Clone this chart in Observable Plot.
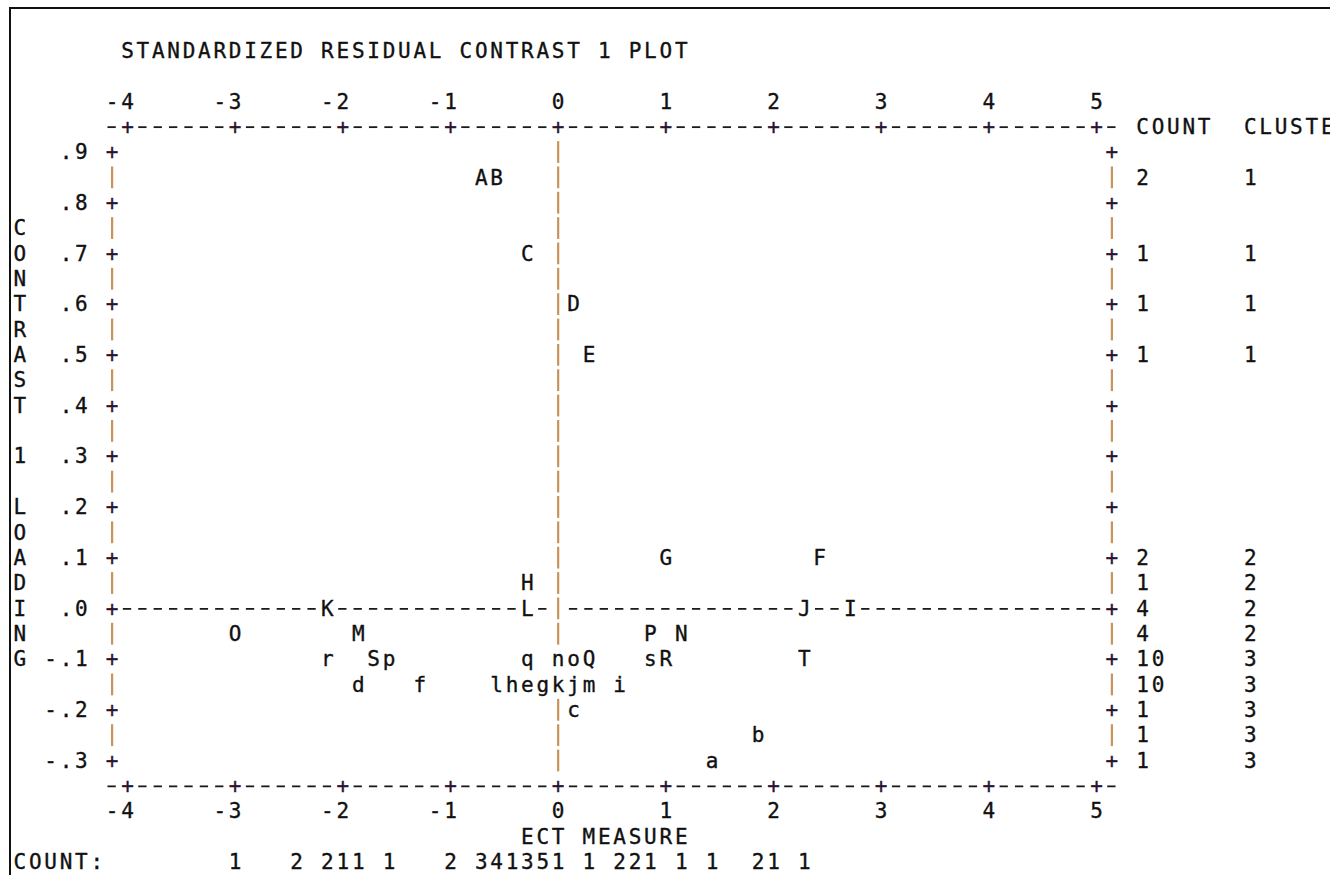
<!DOCTYPE html>
<html><head><meta charset="utf-8">
<script src="https://cdn.jsdelivr.net/npm/d3@7"></script>
<script src="https://cdn.jsdelivr.net/npm/@observablehq/plot@0.6"></script>
<style>
body{margin:0;background:#fff;}
#wrap{position:relative;width:1330px;height:875px;overflow:hidden;background:#fff;}
#chart{position:absolute;left:0;top:0;}
#border{position:absolute;left:9px;top:7px;width:1400px;height:900px;border-left:2px solid #111;border-top:2px solid #111;pointer-events:none;}
</style></head><body>
<div id="wrap"><div id="chart"></div><div id="border"></div></div>
<script>
// ---- data ----
const itemLabels   = ["A","B","C","D","E","F","G","H","I","J","K","L","M","N","O","P","Q","R","S","T",
                      "a","b","c","d","e","f","g","h","i","j","k","l","m","n","o","p","q","r","s"];
const itemMeasures = [-0.714,-0.571,-0.286,0.143,0.286,2.429,1.000,-0.286,2.714,2.286,-2.143,-0.286,-1.857,1.143,-3.000,0.857,0.286,1.000,-1.714,2.286,
                      1.429,1.857,0.143,-1.857,-0.286,-1.286,-0.143,-0.429,0.571,0.143,0.000,-0.571,0.286,0.000,0.143,-1.571,-0.286,-2.143,0.857];
const itemLoadings = [0.85,0.85,0.70,0.60,0.50,0.10,0.10,0.05,0.00,0.00,0.00,0.00,-0.05,-0.05,-0.05,-0.05,-0.10,-0.10,-0.10,-0.10,
                      -0.30,-0.25,-0.20,-0.15,-0.15,-0.15,-0.15,-0.15,-0.15,-0.15,-0.15,-0.15,-0.15,-0.10,-0.10,-0.10,-0.10,-0.10,-0.10];

const xTicks = [-4,-3,-2,-1,0,1,2,3,4,5];
const yTicks = [0.9,0.8,0.7,0.6,0.5,0.4,0.3,0.2,0.1,0.0,-0.1,-0.2,-0.3];
const yTickLabels = [".9",".8",".7",".6",".5",".4",".3",".2",".1",".0","-.1","-.2","-.3"];

const rowLoadings = [0.85,0.70,0.60,0.50,0.10,0.05,0.00,-0.05,-0.10,-0.15,-0.20,-0.25,-0.30];
const rowCounts   = ["2","1","1","1","2","1","4","4","10","10","1","1","1"];
const rowClusters = ["1","1","1","1","2","2","2","2","3","3","3","3","3"];

const countMeasures = [-3.000,-2.429,-2.143,-2.000,-1.857,-1.571,-1.000,-0.714,-0.571,-0.429,-0.286,-0.143,0.000,0.286,0.571,0.714,0.857,1.143,1.429,1.857,2.000,2.286];
const countValues   = ["1","2","2","1","1","1","2","3","4","1","3","5","1","1","2","2","1","1","1","2","1","1"];

const titleText = "STANDARDIZED RESIDUAL CONTRAST 1 PLOT";
const yAxisTitle = "CONTRAST 1 LOADING";
const xAxisTitle = "ECT MEASURE";

// ---- character grid helpers (1 column = 1/7 measure unit, 1 row = .05 loading) ----
const colX = c => -4 + c / 7;
const rowY = r => 0.9 - r * 0.05;
const colOf = m => Math.round((m + 4) * 7);
const rowOf = l => Math.round((0.9 - l) / 0.05);

function chars(str, c0, r) {
  const out = [];
  [...str].forEach((ch, i) => { if (ch !== " ") out.push({ch, x: colX(c0 + i), y: rowY(r)}); });
  return out;
}

const items = itemLabels.map((t, i) => ({ch: t, x: itemMeasures[i], y: itemLoadings[i]}));
const occupied = new Set(items.map(d => colOf(d.x) + "," + rowOf(d.y)));

const tickCols = xTicks.map(v => colOf(v));
const leftCol = -1, rightCol = colOf(5) + 1, zeroCol = colOf(0), zeroRow = rowOf(0);
const lastRow = rowOf(-0.3);

const plus = [], dashes = [], bars = [];
for (const r of [-1, lastRow + 1]) {
  for (let c = leftCol; c <= rightCol; c++) {
    if (tickCols.includes(c)) plus.push({x: colX(c), y: rowY(r)});
    else dashes.push({x: colX(c), y: rowY(r)});
  }
}
for (let r = 0; r <= lastRow; r++) {
  for (const c of [leftCol, rightCol]) {
    if (r % 2 === 0) plus.push({x: colX(c), y: rowY(r)});
    else bars.push({x: colX(c), y: rowY(r)});
  }
  if (!occupied.has(zeroCol + "," + r)) bars.push({x: colX(zeroCol), y: rowY(r)});
}
for (let c = 0; c < rightCol; c++) {
  if (c === zeroCol || occupied.has(c + "," + zeroRow)) continue;
  dashes.push({x: colX(c), y: rowY(zeroRow)});
}

const labels = [];
labels.push(...chars(titleText, 0, -4));
xTicks.forEach(v => {
  const s = String(v);
  labels.push(...chars(s, colOf(v) - s.length + 1, -2));
  labels.push(...chars(s, colOf(v) - s.length + 1, lastRow + 2));
});
yTicks.forEach((v, i) => {
  const s = yTickLabels[i];
  labels.push(...chars(s, leftCol - 1 - s.length, rowOf(v)));
});
[...yAxisTitle].forEach((ch, i) => labels.push(...chars(ch, -7, 3 + i)));
labels.push(...chars("COUNT", rightCol + 2, -1));
labels.push(...chars("CLUSTER", rightCol + 9, -1));
rowLoadings.forEach((l, i) => {
  labels.push(...chars(rowCounts[i], rightCol + 2, rowOf(l)));
  labels.push(...chars(rowClusters[i], rightCol + 9, rowOf(l)));
});
labels.push(...chars(xAxisTitle, 26, lastRow + 3));
labels.push(...chars("COUNT:", -7, lastRow + 4));
countMeasures.forEach((m, i) => labels.push(...chars(countValues[i], colOf(m), lastRow + 4)));

const font = {fontFamily: "'DejaVu Sans Mono', monospace", fontSize: 21, textAnchor: "middle", lineAnchor: "middle", strokeWidth: 0.35};
const halfDash = 0.27 / 7, halfBar = 0.0215;

const chart = Plot.plot({
  width: 1330, height: 875,
  margin: 0,
  x: {domain: [-4, 5], range: [127, 1096], axis: null},
  y: {domain: [-0.3, 0.9], range: [760.5, 152], axis: null},
  style: {background: "#fff", overflow: "visible"},
  marks: [
    Plot.ruleX(bars, {x: "x", y1: d => d.y - halfBar, y2: d => d.y + halfBar, stroke: "#c8935a", strokeWidth: 2.2}),
    Plot.ruleY(dashes, {y: "y", x1: d => d.x - halfDash, x2: d => d.x + halfDash, stroke: "#1a1a1a", strokeWidth: 1.8}),
    Plot.text(plus, {x: "x", y: "y", text: () => "+", fill: "#2a1230", stroke: "#2a1230", ...font}),
    Plot.text(labels, {x: "x", y: "y", text: "ch", fill: "#111", stroke: "#111", ...font}),
    Plot.text(items, {x: "x", y: "y", text: "ch", fill: "#111", stroke: "#111", ...font})
  ]
});
document.getElementById("chart").appendChild(chart);
</script>
</body></html>
